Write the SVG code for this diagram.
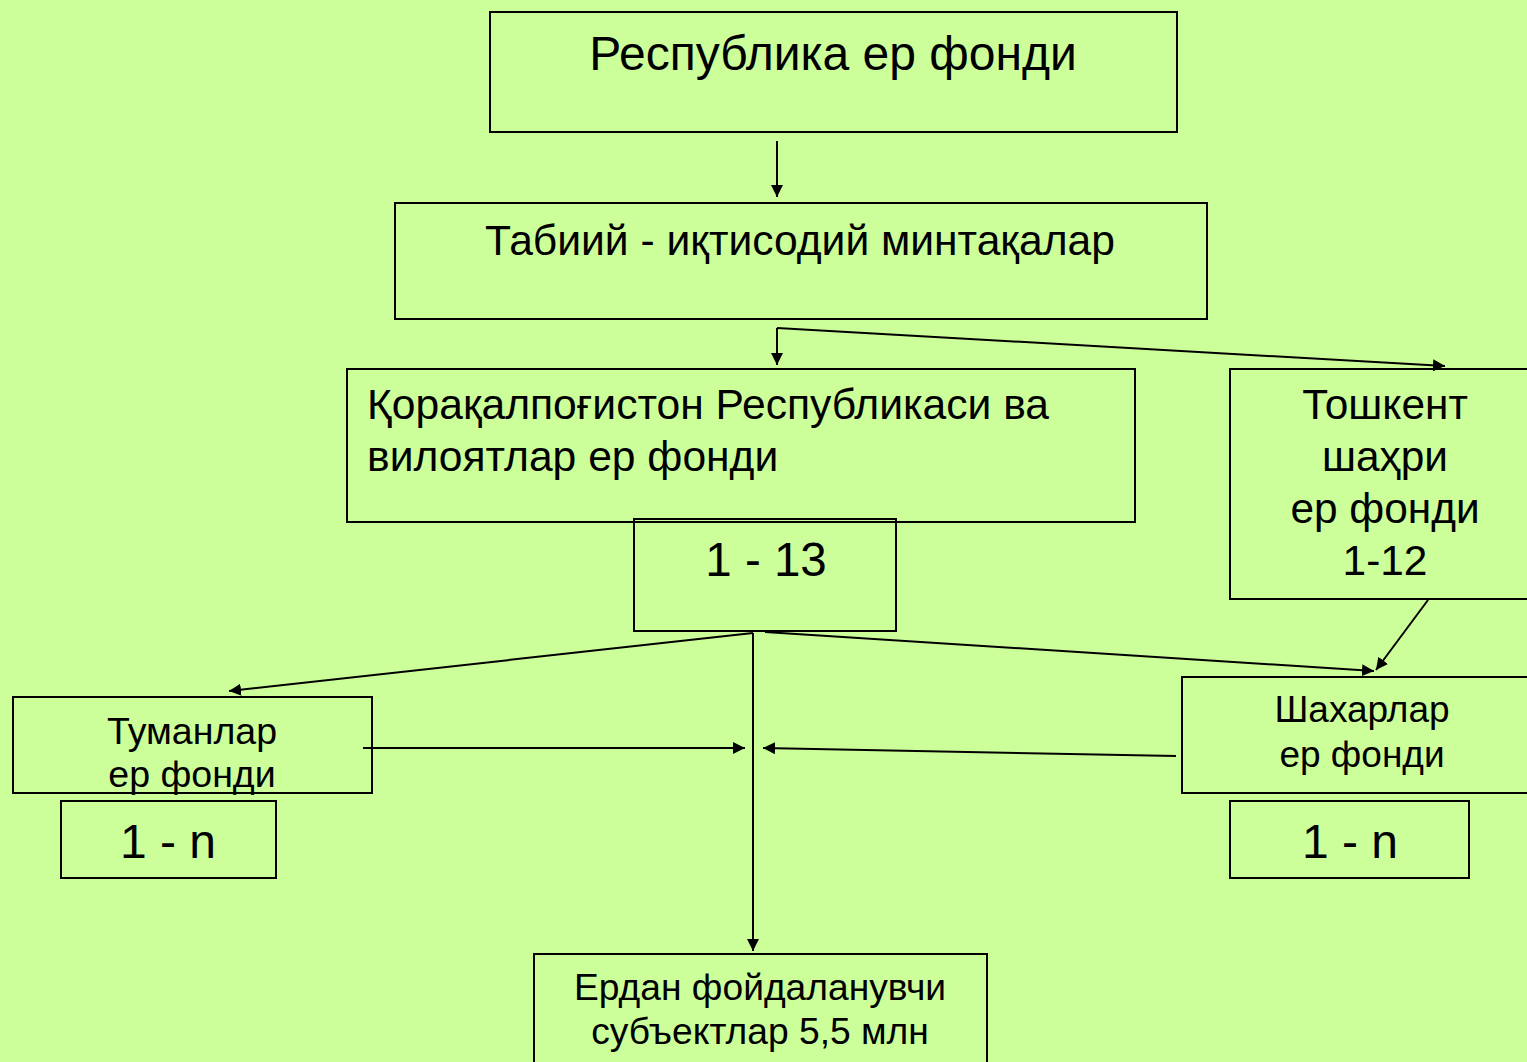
<svg xmlns="http://www.w3.org/2000/svg" width="1527" height="1062" viewBox="0 0 1527 1062">
<defs>
<marker id="ah" viewBox="0 0 10 10" refX="10" refY="5" markerWidth="6" markerHeight="6" orient="auto" markerUnits="strokeWidth">
<path d="M0,0 L10,5 L0,10 z" fill="#000"/>
</marker>
<style>
.box{fill:none;stroke:#000;stroke-width:2}
.t{font-family:"Liberation Sans",Arial,sans-serif;fill:#000}
.c{stroke:#000;stroke-width:2;fill:none}
.a{marker-end:url(#ah)}
</style>
</defs>
<rect x="0" y="0" width="1527" height="1062" fill="#CCFF99"/>
<g id="connectors">
<line class="c a" x1="777" y1="141" x2="777" y2="197"/>
<line class="c a" x1="777" y1="328" x2="777" y2="365"/>
<line class="c a" x1="777" y1="328" x2="1445" y2="366"/>
<line class="c a" x1="753" y1="633" x2="229" y2="691"/>
<line class="c a" x1="753" y1="633" x2="753" y2="951"/>
<line class="c a" x1="765" y1="632" x2="1374" y2="671"/>
<line class="c a" x1="1428" y1="600" x2="1376" y2="670"/>
<line class="c a" x1="363" y1="748" x2="745" y2="748"/>
<line class="c a" x1="1176" y1="756" x2="763" y2="748"/>
</g>
<g id="n1"><rect class="box" x="490" y="12" width="687" height="120"/><text class="t" x="833" y="70" font-size="48" text-anchor="middle">Республика ер фонди</text></g>
<g id="n2"><rect class="box" x="395" y="203" width="812" height="116"/><text class="t" x="800" y="255" font-size="42.6" text-anchor="middle">Табиий - иқтисодий минтақалар</text></g>
<g id="n3"><rect class="box" x="347" y="369" width="788" height="153"/><text class="t" x="367" y="419" font-size="42.6">Қорақалпоғистон Республикаси ва</text><text class="t" x="367" y="471" font-size="42.6">вилоятлар ер фонди</text></g>
<g id="n4"><rect class="box" x="634" y="519" width="262" height="112"/><text class="t" x="766" y="576" font-size="47.5" text-anchor="middle">1 - 13</text></g>
<g id="n5"><rect class="box" x="1230" y="369" width="310" height="230"/><text class="t" x="1385" y="419" font-size="42.4" text-anchor="middle">Тошкент</text><text class="t" x="1385" y="471" font-size="42.4" text-anchor="middle">шаҳри</text><text class="t" x="1385" y="523" font-size="42.4" text-anchor="middle">ер фонди</text><text class="t" x="1385" y="575" font-size="42.4" text-anchor="middle">1-12</text></g>
<g id="n6"><rect class="box" x="13" y="697" width="359" height="96"/><text class="t" x="192" y="744" font-size="37.5" text-anchor="middle">Туманлар</text><text class="t" x="192" y="787" font-size="37.5" text-anchor="middle">ер фонди</text></g>
<g id="n7"><rect class="box" x="61" y="801" width="215" height="77"/><text class="t" x="168" y="858" font-size="48" text-anchor="middle">1 - n</text></g>
<g id="n8"><rect class="box" x="1182" y="677" width="360" height="116"/><text class="t" x="1362" y="722" font-size="37" text-anchor="middle">Шахарлар</text><text class="t" x="1362" y="767" font-size="37" text-anchor="middle">ер фонди</text></g>
<g id="n9"><rect class="box" x="1230" y="801" width="239" height="77"/><text class="t" x="1350" y="858" font-size="48" text-anchor="middle">1 - n</text></g>
<g id="n10"><rect class="box" x="534" y="954" width="453" height="120"/><text class="t" x="760" y="1000" font-size="37.2" text-anchor="middle">Ердан фойдаланувчи</text><text class="t" x="760" y="1044" font-size="37.2" text-anchor="middle">субъектлар 5,5 млн</text></g>
</svg>
